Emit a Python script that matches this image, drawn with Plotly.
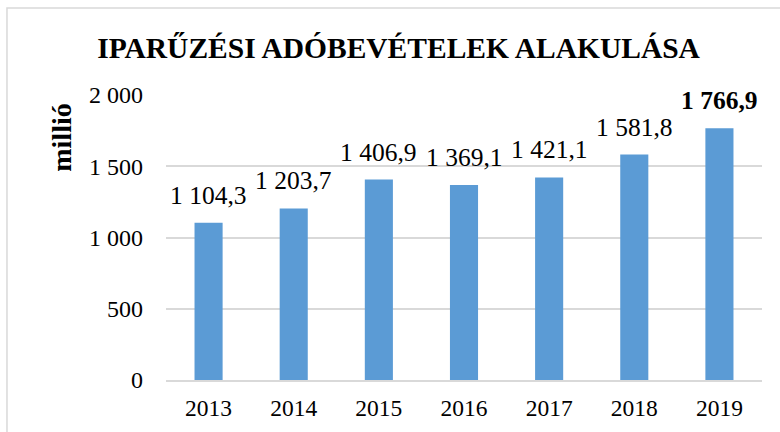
import plotly.graph_objects as go

years = ['2013', '2014', '2015', '2016', '2017', '2018', '2019']
revenue = [1104.3, 1203.7, 1406.9, 1369.1, 1421.1, 1581.8, 1766.9]
labels = ['1 104,3', '1 203,7', '1 406,9', '1 369,1', '1 421,1', '1 581,8', '<b>1 766,9</b>']
tick_vals = [0, 500, 1000, 1500, 2000]
tick_text = ['0', '500', '1 000', '1 500', '2 000']

serif = 'Liberation Serif, Times New Roman, serif'
bar_color = '#5B9BD5'
grid_color = '#D9D9D9'

fig = go.Figure()
fig.add_trace(go.Bar(
    x=years,
    y=revenue,
    marker_color=bar_color,
    marker_line_width=0,
    hoverinfo='x+y'
))

# value labels above the bars (x given as category index)
for i, (val, txt) in enumerate(zip(revenue, labels)):
    fig.add_annotation(
        x=i, y=val, text=txt, showarrow=False,
        yanchor='bottom', yshift=11,
        font=dict(family=serif, size=25.5, color='#000000')
    )

fig.add_annotation(
    xref='paper', yref='paper', x=-0.1745, y=0.85,
    text='<b>millió</b>', textangle=-90, showarrow=False,
    xanchor='center', yanchor='middle',
    font=dict(family=serif, size=28, color='#000000')
)

# frame around the chart
fig.add_shape(
    type='rect', xref='paper', yref='paper',
    x0=-0.2668, x1=1.2, y0=-0.4, y1=1.305,
    line=dict(color=grid_color, width=1.5), fillcolor='rgba(0,0,0,0)'
)

fig.update_layout(
    width=780, height=432,
    margin=dict(l=166, r=18, t=95, b=52),
    paper_bgcolor='white', plot_bgcolor='white',
    title=dict(
        text='<b>IPARŰZÉSI ADÓBEVÉTELEK ALAKULÁSA</b>',
        x=0.511, xanchor='center', y=0.889, yanchor='middle',
        font=dict(family=serif, size=29.5, color='#000000')
    ),
    bargap=0.67,
    showlegend=False,
    xaxis=dict(
        type='category', range=[-0.5, len(years) - 0.5],
        showgrid=False, showline=True, linecolor=grid_color, linewidth=1.5,
        tickfont=dict(family=serif, size=23.5, color='#000000'),
        ticks='', ticklabelstandoff=6
    ),
    yaxis=dict(
        range=[0, 2000], tickvals=tick_vals, ticktext=tick_text,
        showgrid=True, gridcolor=grid_color, gridwidth=1.5,
        zeroline=False, showline=False,
        tickfont=dict(family=serif, size=24, color='#000000'),
        ticks='', ticklabelstandoff=22
    )
)

# drop the default page margin so the chart sits at the window's corner
fig.write_html("out.html", config={'displayModeBar': False},
               post_script="document.body.style.margin='0';")
